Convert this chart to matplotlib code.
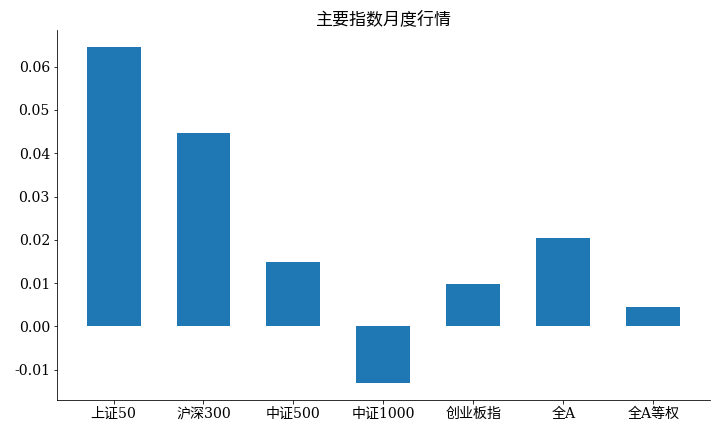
import matplotlib
matplotlib.use("Agg")
import matplotlib.pyplot as plt

plt.rcParams['font.family'] = ['DejaVu Serif', 'Noto Sans CJK SC']
plt.rcParams['axes.unicode_minus'] = False

# 主要指数月度涨跌幅
names = ["上证50", "沪深300", "中证500", "中证1000", "创业板指", "全A", "全A等权"]
returns = [0.0646, 0.0447, 0.0148, -0.0131, 0.0097, 0.0205, 0.0045]

fig = plt.figure(figsize=(10, 6), dpi=72)
ax = fig.add_axes([0.079, 0.074, 0.907, 0.857])
ax.bar(names, returns, width=0.6, color="#1f77b4")
ax.set_title("主要指数月度行情", fontsize=17)
ax.tick_params(labelsize=14)
ax.spines['top'].set_visible(False)
ax.spines['right'].set_visible(False)
fig.savefig("out.png")
plt.close(fig)
